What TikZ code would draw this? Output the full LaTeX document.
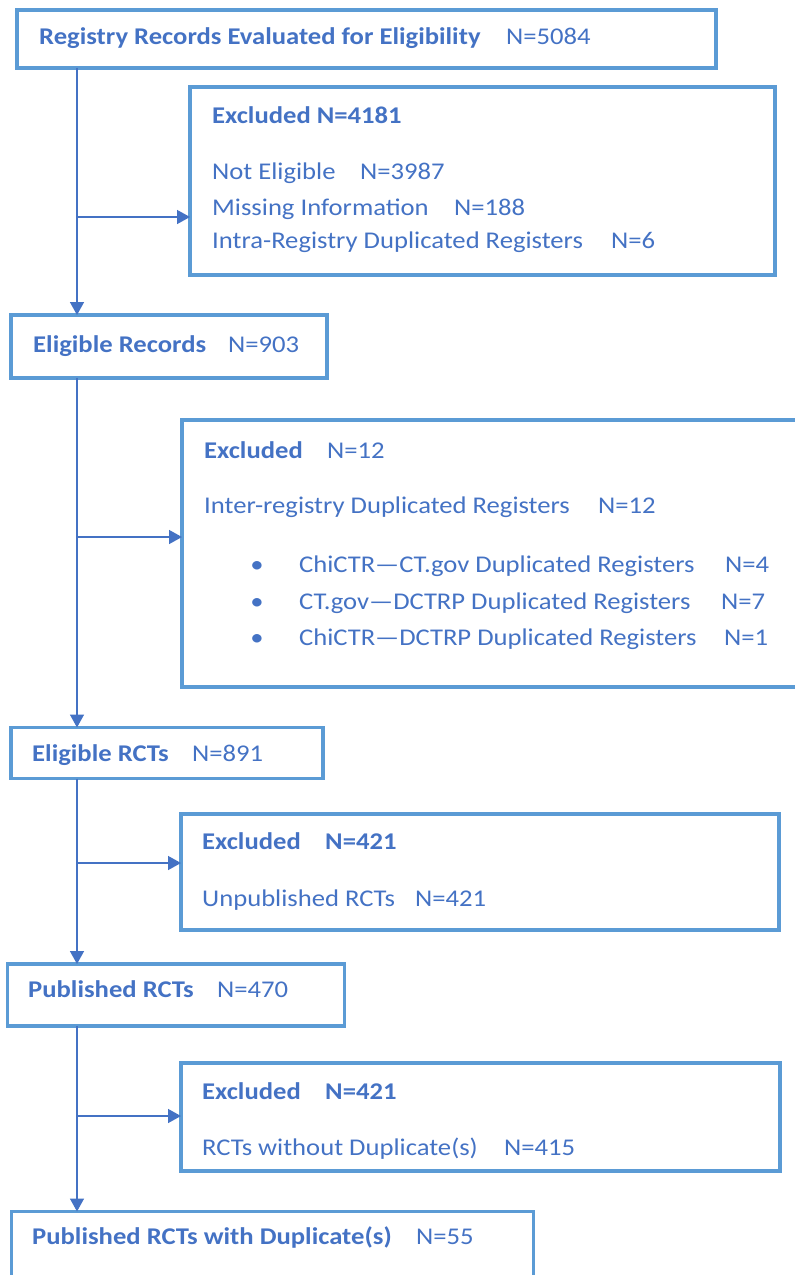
\documentclass[tikz,border=0pt]{standalone}
\usepackage{fontspec}
\setmainfont{Carlito}[FakeStretch=1.11]
\usepackage{tikz}
\usetikzlibrary{arrows.meta, positioning, calc}
\usepackage{xcolor}
\definecolor{FlowBorder}{HTML}{5B9BD5}
\definecolor{FlowText}{HTML}{4472C4}
\definecolor{FlowLine}{HTML}{4472C4}
\newcommand{\rowtab}[3]{\makebox[#1][l]{#2}#3}
\tikzset{
    % Box styles - sharp corners, no fill
    stagebox/.style={
        rectangle,
        draw=FlowBorder,
        line width=3.3pt,
        inner sep=0pt,
        outer sep=0pt,
        anchor=north west
    },
    % Text lines inside the boxes
    flowtext/.style={
        anchor=base west,
        inner sep=0pt,
        text=FlowText,
        font=\fontsize{24}{28}\selectfont
    },
    % Arrow style - straight lines only
    arrow/.style={
        -{Triangle[length=13pt, width=14pt]},
        line width=1.5pt,
        draw=FlowLine
    }
}

\begin{document}
\begin{tikzpicture}[x=1pt, y=-1pt]
    \path[use as bounding box, clip] (0,0) rectangle (795,1275);

    % Main boxes
    \node[stagebox, minimum width=699pt, minimum height=58pt] (reg) at (17,10) {};
    \node[stagebox, minimum width=316pt, minimum height=63pt] (elig) at (11,315) {};
    \node[stagebox, minimum width=312pt, minimum height=51pt] (rct) at (11,727.5) {};
    \node[stagebox, minimum width=337pt, minimum height=62pt] (pub) at (7.5,964) {};
    \node[stagebox, minimum width=522pt, minimum height=100pt] (fin) at (11.5,1211.5) {};

    % Exclusion boxes
    \node[stagebox, minimum width=585pt, minimum height=188pt] (exa) at (190,87) {};
    \node[stagebox, minimum width=628pt, minimum height=267pt] (exb) at (182,420) {};
    \node[stagebox, minimum width=598pt, minimum height=116pt] (exc) at (181,814) {};
    \node[stagebox, minimum width=599pt, minimum height=108pt] (exd) at (181,1063) {};

    % Texts
    \node[flowtext] (regtxt) at (39,44) {\rowtab{467pt}{\bfseries Registry Records Evaluated for Eligibility}{N=5084}};

    \node[flowtext] (exatitle) at (212,123) {\bfseries Excluded N=4181};
    \node[flowtext] (exa1) at (212,179) {\rowtab{148pt}{Not Eligible}{N=3987}};
    \node[flowtext] (exa2) at (212,215) {\rowtab{242pt}{Missing Information}{N=188}};
    \node[flowtext] (exa3) at (212,248) {\rowtab{399pt}{Intra-Registry Duplicated Registers}{N=6}};

    \node[flowtext] (eligtxt) at (33,352) {\rowtab{195pt}{\bfseries Eligible Records}{N=903}};

    \node[flowtext] (exbtitle) at (204,458) {\rowtab{123pt}{\bfseries Excluded}{N=12}};
    \node[flowtext] (exb0) at (204,513) {\rowtab{394pt}{Inter-registry Duplicated Registers}{N=12}};
    \node[flowtext, anchor=base] (bul1) at (257,572) {•};
    \node[flowtext] (exb1) at (299,572) {\rowtab{426pt}{ChiCTR—CT.gov Duplicated Registers}{N=4}};
    \node[flowtext, anchor=base] (bul2) at (257,609) {•};
    \node[flowtext] (exb2) at (299,609) {\rowtab{422pt}{CT.gov—DCTRP Duplicated Registers}{N=7}};
    \node[flowtext, anchor=base] (bul3) at (257,645) {•};
    \node[flowtext] (exb3) at (299,645) {\rowtab{425pt}{ChiCTR—DCTRP Duplicated Registers}{N=1}};

    \node[flowtext] (rcttxt) at (32,761) {\rowtab{160pt}{\bfseries Eligible RCTs}{N=891}};

    \node[flowtext] (exctitle) at (202,849) {\rowtab{123pt}{\bfseries Excluded}{\bfseries N=421}};
    \node[flowtext] (exc1) at (202,906) {\rowtab{213pt}{Unpublished RCTs}{N=421}};

    \node[flowtext] (pubtxt) at (28,997) {\rowtab{189pt}{\bfseries Published RCTs}{N=470}};

    \node[flowtext] (exdtitle) at (202,1099) {\rowtab{123pt}{\bfseries Excluded}{\bfseries N=421}};
    \node[flowtext] (exd1) at (202,1155) {\rowtab{302pt}{RCTs without Duplicate(s)}{N=415}};

    \node[flowtext] (fintxt) at (32,1244) {\rowtab{384pt}{\bfseries Published RCTs with Duplicate(s)}{N=55}};

    % Branch points on the spine
    \coordinate (sa) at (77,217);
    \coordinate (sb) at (77,537);
    \coordinate (sc) at (77,863);
    \coordinate (sd) at (77,1116);

    % Arrows
    \draw[arrow] (reg.south -| sa) -- (elig.north -| sa);
    \draw[arrow] (elig.south -| sb) -- (rct.north -| sb);
    \draw[arrow] (rct.south -| sc) -- (pub.north -| sc);
    \draw[arrow] (pub.south -| sd) -- (fin.north -| sd);

    \draw[arrow] (sa) -- (sa -| exa.west);
    \draw[arrow] (sb) -- (sb -| exb.west);
    \draw[arrow] (sc) -- (sc -| exc.west);
    \draw[arrow] (sd) -- (sd -| exd.west);
\end{tikzpicture}
\end{document}
